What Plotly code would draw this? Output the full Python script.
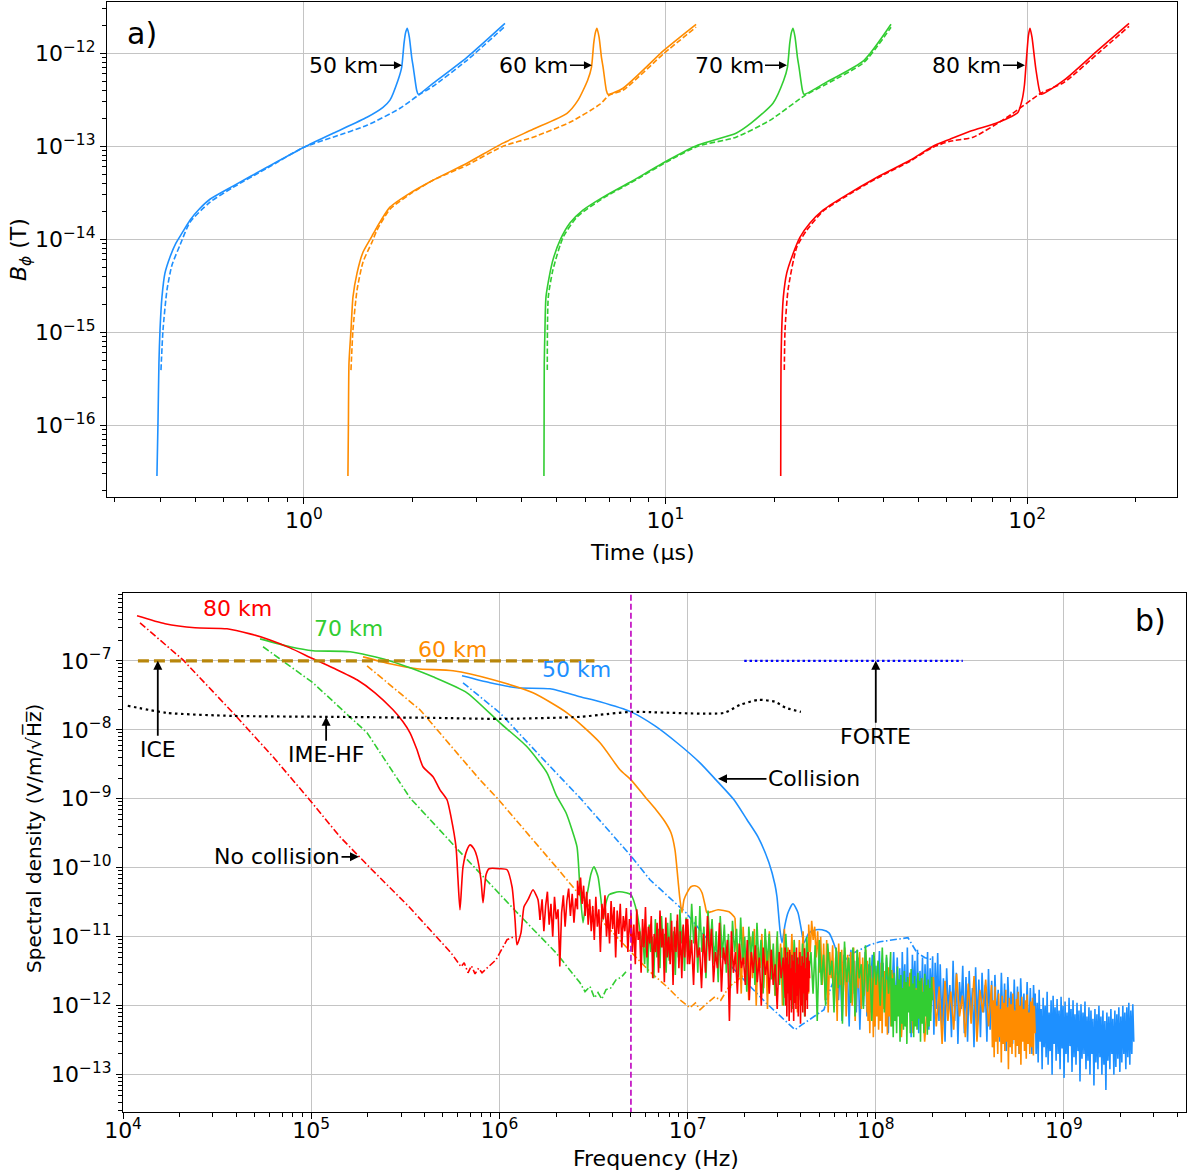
import numpy as np
import plotly.graph_objects as go

# ================= Panel a) : B_phi vs time =================
blue_t = [0.392, 0.3945, 0.397, 0.3997, 0.4047, 0.4125, 0.4258, 0.4424, 0.4598, 0.4838, 0.5157, 0.5495, 0.636, 0.790,
          1.0, 1.203, 1.494, 1.654, 1.729, 1.820, 1.863, 1.891, 1.911, 1.931, 1.956, 1.986, 2.006, 2.050, 2.071,
          2.274, 2.824, 3.597]
blue_B = [2.83e-17, 1e-16, 4.64e-16, 1.05e-15, 2.38e-15, 4.31e-15, 6.4e-15, 9.06e-15, 1.16e-14, 1.60e-14, 2.15e-14,
          2.69e-14, 3.72e-14, 5.94e-14, 9.76e-14, 1.38e-13, 2.05e-13, 2.62e-13, 3.13e-13, 5.13e-13, 7.06e-13,
          1.28e-12, 1.68e-12, 1.86e-12, 1.49e-12, 9.06e-13, 7.06e-13, 4.0e-13, 3.62e-13, 4.75e-13, 9.06e-13, 2.10e-12]
blue_dash_t = [0.4022, 0.4074, 0.4178, 0.4313, 0.4539, 0.4838, 0.5495, 0.636, 0.790, 1.0, 1.203, 1.494, 1.844, 2.071,
               2.274, 2.824, 3.597]
blue_dash_B = [3.9e-16, 1.05e-15, 2.83e-15, 5.25e-15, 8.61e-15, 1.52e-14, 2.5e-14, 3.6e-14, 5.8e-14, 9.76e-14,
               1.25e-13, 1.68e-13, 2.56e-13, 3.53e-13, 4.42e-13, 8.41e-13, 1.95e-12]

orange_t = [1.323, 1.327, 1.332, 1.349, 1.366, 1.402, 1.456, 1.542, 1.592, 1.729, 1.965, 2.274, 2.824, 3.552, 4.30,
            5.34, 5.73, 6.09, 6.24, 6.33, 6.40, 6.46, 6.55, 6.65, 6.72, 6.86, 6.93, 7.63, 9.91, 12.15]
orange_B = [2.83e-17, 1e-16, 4.64e-16, 1.05e-15, 2.38e-15, 4.31e-15, 7.24e-15, 1.08e-14, 1.35e-14, 2.21e-14, 3.13e-14,
            4.31e-14, 6.57e-14, 1.08e-13, 1.52e-13, 2.26e-13, 3.13e-13, 5.13e-13, 7.06e-13, 1.28e-12, 1.68e-12,
            1.86e-12, 1.49e-12, 9.06e-13, 7.06e-13, 4.0e-13, 3.62e-13, 4.21e-13, 1.08e-12, 2.05e-12]
orange_dash_t = [1.349, 1.366, 1.402, 1.456, 1.542, 1.592, 1.729, 1.965, 2.274, 2.824, 3.552, 4.30, 5.44, 6.59, 6.98,
                 7.63, 9.91, 12.15]
orange_dash_B = [3.9e-16, 1.05e-15, 2.83e-15, 5.66e-15, 9.29e-15, 1.25e-14, 2.1e-14, 3.05e-14, 4.31e-14, 6.25e-14,
                 1e-13, 1.25e-13, 1.81e-13, 2.83e-13, 3.53e-13, 4.0e-13, 1e-12, 1.91e-12]

green_t = [4.61, 4.615, 4.62, 4.64, 4.67, 4.79, 4.88, 5.11, 5.44, 5.91, 6.72, 7.98, 10.16, 12.30, 15.67, 17.24, 19.83,
           21.23, 21.74, 22.06, 22.30, 22.53, 22.82, 23.17, 23.41, 23.92, 24.16, 27.80, 35.41, 42.05]
green_B = [2.83e-17, 1e-16, 4.64e-16, 1.05e-15, 2.38e-15, 4.31e-15, 5.94e-15, 9.76e-15, 1.49e-14, 2.05e-14, 2.83e-14,
           4.10e-14, 7.06e-14, 1.03e-13, 1.38e-13, 1.77e-13, 2.90e-13, 5.13e-13, 7.06e-13, 1.28e-12, 1.68e-12,
           1.86e-12, 1.49e-12, 9.06e-13, 7.06e-13, 4.0e-13, 3.62e-13, 4.87e-13, 8.41e-13, 2.05e-12]
green_dash_t = [4.71, 4.74, 4.88, 5.21, 5.69, 6.72, 7.98, 10.16, 12.30, 15.67, 19.45, 24.32, 27.80, 35.41, 42.05]
green_dash_B = [3.9e-16, 2.38e-15, 4.64e-15, 1.05e-14, 1.73e-14, 2.76e-14, 4.0e-14, 6.9e-14, 1e-13, 1.25e-13,
                1.90e-13, 3.53e-13, 4.64e-13, 8.0e-13, 1.91e-12]

red_t = [20.83, 20.84, 20.87, 20.96, 21.18, 21.64, 22.35, 23.56, 25.10, 27.27, 30.97, 38.47, 47.48, 54.95, 61.24,
         69.56, 82.08, 90.89, 94.43, 96.87, 98.35, 99.8, 100.9, 101.9, 103.2, 104.8, 105.9, 108.2, 109.3, 126.6,
         157.2, 191.5]
red_B = [2.83e-17, 1e-16, 4.64e-16, 1.05e-15, 2.38e-15, 4.31e-15, 6.4e-15, 1.05e-14, 1.49e-14, 2.05e-14, 2.83e-14,
         4.64e-14, 7.06e-14, 1e-13, 1.19e-13, 1.45e-13, 1.77e-13, 2.1e-13, 2.32e-13, 3.13e-13, 4.53e-13, 9.5e-13,
         1.56e-12, 1.86e-12, 1.49e-12, 9.06e-13, 6.57e-13, 4.0e-13, 3.62e-13, 5.13e-13, 1.08e-12, 2.10e-12]
red_dash_t = [21.31, 21.41, 21.82, 23.07, 24.59, 27.27, 30.97, 38.47, 47.48, 54.95, 61.24, 70.9, 88.1, 109.3, 126.6,
              157.2, 191.5]
red_dash_B = [3.9e-16, 1.05e-15, 2.83e-15, 8.2e-15, 1.25e-14, 2.0e-14, 2.76e-14, 4.53e-14, 6.9e-14, 9.76e-14, 1.13e-13,
              1.25e-13, 2.05e-13, 3.72e-13, 4.87e-13, 1e-12, 1.95e-12]

alt_labels = ["50 km", "60 km", "70 km", "80 km"]
peak_arrow_t = [1.866, 6.26, 21.68, 98.7]
peak_arrow_B = [7.43e-13, 7.43e-13, 7.43e-13, 7.43e-13]

# ================= Panel b) : spectral density =================
red_f = [1.187e4, 1.672e4, 2.413e4, 3.569e4, 4.729e4, 6.04e4, 7.716e4, 1.022e5, 1.338e5, 1.751e5, 2.183e5, 2.72e5,
         3.074e5, 3.35e5, 3.649e5, 3.926e5, 4.438e5, 4.834e5, 5.267e5, 5.531e5, 5.88e5, 6.026e5, 6.174e5, 6.406e5,
         6.727e5, 6.98e5, 7.328e5, 7.603e5, 7.984e5, 8.183e5, 8.489e5, 8.806e5, 1.007e6, 1.098e6, 1.167e6, 1.211e6,
         1.24e6, 1.302e6, 1.351e6, 1.419e6, 1.508e6, 1.565e6, 1.604e6, 1.643e6]
red_S = [4.49e-7, 3.44e-7, 3.01e-7, 2.91e-7, 2.46e-7, 2.01e-7, 1.54e-7, 1.07e-7, 7.66e-8, 5.31e-8, 3.44e-8, 1.95e-8,
         1.31e-8, 9.06e-9, 5.13e-9, 2.91e-9, 2.09e-9, 1.35e-9, 9.68e-10, 5.48e-10, 2.01e-10, 6.7e-11, 2.46e-11,
         1.03e-10, 1.82e-10, 2.15e-10, 1.88e-10, 1.44e-10, 6.7e-11, 3.11e-11, 7.92e-11, 9.68e-11, 9.68e-11, 9.36e-11,
         5.31e-11, 1.76e-11, 7.66e-12, 1.14e-11, 2.72e-11, 3.44e-11, 4.8e-11, 4.06e-11, 3.44e-11, 1.76e-11]
red_nc_f = [1.231e4, 2.084e4, 3.842e4, 6.266e4, 9.616e4, 1.422e5, 2.053e5, 3.309e5, 4.279e5, 5.531e5, 6.252e5, 6.5e5,
            6.81e5, 7.1e5, 7.422e5, 7.75e5, 8.085e5, 8.918e5, 9.592e5, 1.098e6, 1.196e6]
red_nc_S = [3.56e-7, 1.03e-7, 1.76e-8, 4.06e-9, 1.03e-9, 2.81e-10, 1.0e-10, 2.72e-11, 1.26e-11, 5.86e-12, 3.67e-12,
            4.2e-12, 3.0e-12, 3.8e-12, 2.9e-12, 3.5e-12, 3.01e-12, 3.8e-12, 4.64e-12, 9.06e-12, 1.0e-11]

green_f = [5.346e4, 7.716e4, 1.022e5, 1.608e5, 2.528e5, 3.35e5, 4.438e5, 6.727e5, 1.007e6, 1.402e6, 1.79e6, 2.0e6,
           2.259e6, 2.43e6, 2.585e6, 2.682e6, 2.782e6, 2.885e6, 2.957e6, 3.067e6, 3.182e6, 3.342e6, 3.467e6, 3.553e6,
           3.686e6, 3.823e6, 4.321e6, 4.706e6, 5.004e6, 5.384e6, 5.725e6]
green_S = [2.08e-7, 1.6e-7, 1.4e-7, 1.35e-7, 1.03e-7, 7.92e-8, 5.86e-8, 3.44e-8, 1.26e-8, 5.68e-9, 2.38e-9, 1.14e-9,
           6.27e-10, 3.56e-10, 2.01e-10, 4.8e-11, 1.6e-11, 3.44e-11, 4.8e-11, 8.18e-11, 1.03e-10, 7.41e-11, 3.44e-11,
           1.76e-11, 3.11e-11, 4.06e-11, 4.49e-11, 4.34e-11, 4.06e-11, 2.23e-11, 7.16e-12]
green_nc_f = [5.546e4, 1.022e5, 1.98e5, 3.35e5, 6.026e5, 1.302e6, 2.0e6, 2.682e6, 2.85e6, 3.03e6, 3.2e6, 3.342e6,
              3.5e6, 3.686e6, 3.9e6, 4.166e6, 4.45e6, 4.706e6]
green_nc_S = [1.6e-7, 4.8e-8, 9.06e-9, 1.03e-9, 1.82e-10, 1.95e-11, 5.86e-12, 2.15e-12, 1.6e-12, 1.9e-12, 1.3e-12,
              1.55e-12, 1.25e-12, 1.71e-12, 1.8e-12, 2.38e-12, 2.6e-12, 3.11e-12]

orange_f = [1.885e5, 2.622e5, 3.649e5, 5.669e5, 9.248e5, 1.508e6, 2.287e6, 3.424e6, 4.373e6, 5.004e6, 5.937e6,
            6.795e6, 7.586e6, 8.163e6, 8.57e6, 8.892e6, 9.112e6, 9.338e6, 9.569e6, 9.927e6, 1.042e7, 1.095e7, 1.15e7,
            1.193e7, 1.237e7, 1.268e7, 1.331e7, 1.451e7, 1.66e7, 1.786e7]
orange_S = [1.14e-7, 9.06e-8, 7.66e-8, 7.16e-8, 5.31e-8, 3.44e-8, 1.76e-8, 6.49e-9, 2.63e-9, 1.88e-9, 1.07e-9,
            6.93e-10, 4.64e-10, 3.21e-10, 1.82e-10, 6.7e-11, 3.44e-11, 2.23e-11, 3.44e-11, 4.34e-11, 5.31e-11,
            5.48e-11, 5.13e-11, 4.34e-11, 2.91e-11, 2.23e-11, 2.3e-11, 2.46e-11, 2.3e-11, 1.88e-11]
orange_nc_f = [1.98e5, 3.785e5, 7.887e5, 9.71e5, 2.0e6, 3.342e6, 4.706e6, 6.312e6, 7.774e6, 9.112e6, 1.03e7, 1.1e7,
               1.164e7, 1.25e7, 1.398e7, 1.5e7, 1.66e7, 2.004e7]
orange_nc_S = [8.47e-8, 1.95e-8, 1.88e-9, 1.03e-9, 1.03e-10, 1.95e-11, 7.16e-12, 3.11e-12, 1.88e-12, 1.22e-12,
               9.36e-13, 1.1e-12, 8.75e-13, 1.05e-12, 1.35e-12, 1.2e-12, 1.88e-12, 2.81e-12]

blue_f = [6.327e5, 8.918e5, 1.24e6, 1.858e6, 2.682e6, 3.424e6, 5.004e6, 6.712e6, 8.785e6, 1.164e7, 1.415e7, 1.764e7,
          2.069e7, 2.366e7, 2.707e7, 2.913e7, 2.985e7, 3.097e7, 3.174e7, 3.293e7, 3.416e7, 3.631e7, 3.86e7, 4.004e7,
          4.154e7, 4.416e7, 4.812e7, 5.178e7, 5.64e7, 6.07e7]
blue_S = [6.06e-8, 4.8e-8, 4.06e-8, 3.93e-8, 3.01e-8, 2.55e-8, 1.82e-8, 1.14e-8, 6.49e-9, 3.32e-9, 1.88e-9, 9.68e-10,
          4.97e-10, 2.81e-10, 1.18e-10, 5.68e-11, 3.8e-11, 1.26e-11, 8.18e-12, 1.49e-11, 2.23e-11, 3.01e-11, 2.23e-11,
          1.35e-11, 8.18e-12, 1.14e-11, 1.26e-11, 1.26e-11, 1.14e-11, 7.16e-12]
blue_nc_f = [6.406e5, 1.007e6, 1.643e6, 2.682e6, 4.943e6, 6.312e6, 9.806e6, 1.487e7, 2.61e7, 2.985e7, 3.333e7, 3.722e7,
             4.055e7, 4.416e7, 4.871e7, 5.305e7, 5.64e7, 5.996e7, 6.375e7, 7.295e7, 8.244e7, 9.316e7, 1.053e8, 1.265e8,
             1.483e8, 1.539e8, 1.656e8, 1.826e8, 2.014e8]
blue_nc_S = [4.8e-8, 1.76e-8, 4.2e-9, 1.03e-9, 1.54e-10, 6.7e-11, 2.23e-11, 5.48e-12, 1.1e-12, 7.92e-13, 5.86e-13,
             4.49e-13, 5.31e-13, 6.27e-13, 7.41e-13, 8.75e-13, 1.54e-12, 2.38e-12, 3.67e-12, 5.48e-12, 6.49e-12,
             7.66e-12, 8.47e-12, 9.06e-12, 9.68e-12, 8.18e-12, 5.86e-12, 4.97e-12, 4.64e-12]

# numerical-noise tails (values in 1e-12 V/m/sqrtHz), read band by band
red_noise_bands = [1.65e6, 2.6e6, 5e6, 1e7, 3.3e7, 4.45e7]
red_noise_1 = [20, 35, 12, 28, 45, 15, 30, 10, 38, 18, 25, 3.7, 22, 40, 14, 33, 50, 20, 42, 16, 36, 25]
red_noise_2 = [65, 40, 72, 30, 55, 20, 45, 15, 35, 12, 28, 9, 38, 14, 25, 6, 30, 18, 40, 10, 22, 8, 33, 13, 27, 5, 24,
               11, 30, 7, 20, 12, 26, 6, 18, 10]
red_noise_3 = [22, 6, 15, 4, 25, 9, 12, 3, 18, 7, 27, 5, 14, 8, 20, 2.5, 11, 6, 16, 3, 24, 7, 13, 2.2, 19, 5, 10, 4,
               17, 2, 14, 6, 21, 3.5, 12, 2.5, 15, 5, 18, 4]
red_noise_4 = [18, 4, 9, 2, 14, 5, 7, 1.8, 11, 3, 20, 4.5, 13, 2.2, 6, 3.5, 16, 1.6, 7, 4, 9, 0.6, 12, 3, 6, 1.5, 8,
               3.5, 5, 2, 9, 1.2, 6, 3, 7.5, 2.2, 5, 1, 7, 2.8, 4.5, 1.5, 6.5, 2, 4, 0.9, 6, 2.5, 5, 1.3]
red_noise_5 = [7, 1, 5, 0.7, 6, 1.5, 4, 0.6, 6.5, 1.2, 3.5, 0.8, 5.5, 2, 4.5, 0.6, 6, 1.1, 3, 0.9, 7, 1.4, 5, 0.7, 4,
               1.8, 6, 0.55, 3.8, 1, 5.2, 0.8, 4.2, 1.5, 6.8, 0.7, 3.5, 1.2, 5, 0.9, 6, 1.6, 4.5, 2.5]

green_noise_bands = [5.8e6, 1e7, 3e7, 1.2e8, 2e8]
green_noise_1 = [9, 4, 12, 3, 15, 6, 10, 2.5, 18, 5, 13, 3.5, 20, 7, 11, 3, 16, 4.5, 22, 6, 12, 2.8, 17, 5, 25, 8, 14,
                 3.2, 19, 6]
green_noise_2 = [15, 5, 30, 8, 20, 3, 28, 6, 14, 2.5, 24, 7, 18, 4, 12, 2.2, 20, 5, 15, 3, 11, 1.8, 17, 6, 13, 2.6,
                 19, 4, 10, 1.6, 14, 5, 12, 2, 16, 3.5, 9, 1.5, 13, 4, 11, 2.4, 8, 1.4, 12]
green_noise_3 = [10, 2, 7, 1, 11, 3, 6, 0.9, 9, 2.5, 5, 1.2, 8, 0.7, 10, 3, 6, 1.5, 7.5, 0.6, 9, 2, 5.5, 1, 8, 2.8, 4.5,
                 0.8, 7, 1.8, 6, 0.55, 8.5, 2.2, 5, 1.1, 7, 0.7, 6.5, 2.5, 4, 0.9, 7.5, 1.6, 5, 0.6, 6, 2, 4.5, 1, 7,
                 0.8, 5.5, 1.5, 6]
green_noise_4 = [3.5, 0.5, 2.5, 0.35, 3, 0.6, 2, 0.4, 3.7, 0.7, 2.4, 0.3, 2.8, 0.55, 1.8, 0.45, 3.2, 0.5, 2.2, 0.28,
                 2.6, 0.8, 1.9, 0.4, 3.4, 0.6, 2.1, 0.35, 2.7, 0.5, 1.7, 0.45, 3, 0.65, 2.3, 0.3, 2.5, 0.55, 1.6, 0.4,
                 2.9, 0.7, 2, 0.38, 2.4, 0.5, 1.8, 0.6, 2.6, 1.2]

orange_noise_bands = [1.8e7, 4.4e7, 9e7, 1.23e8, 4.12e8, 7.03e8]
orange_noise_1 = [12, 3, 8, 1.5, 14, 4, 6, 1.2, 10, 2.5, 13, 1, 7, 3.5, 11, 1.8, 9, 0.9, 12, 3, 6, 1.4, 10, 2.2, 8, 1,
                  13, 4, 7, 1.6, 11, 2.5, 6, 0.8, 9, 2, 12, 3, 8, 1.5]
orange_noise_2 = [15, 6, 17, 9, 14, 5, 12, 3, 10, 2, 8, 1.2, 9, 0.8, 6, 2.5, 7.5, 1, 5, 0.6, 8, 2, 6.5, 1.5, 7, 0.7,
                  5.5, 2.2, 6, 1, 7, 0.6, 4.5, 1.8, 6, 0.9, 5, 1.4, 6.5, 0.8]
orange_noise_3 = [4.5, 0.6, 3, 0.4, 3.8, 0.8, 2.5, 0.35, 4, 0.5, 2.8, 0.7, 3.5, 0.45, 2.2, 0.6, 4.2, 0.4, 2.6, 0.9,
                  3.2, 0.5, 2.4, 0.38, 3.6, 0.7, 2.9, 0.5, 3.3, 1]
orange_noise_4 = [2.8, 0.6, 1.5, 0.35, 2.2, 0.9, 3, 0.4, 1.8, 0.7, 2.5, 0.3, 1.3, 0.8, 2.6, 0.5, 1.9, 0.28, 2.3, 0.6,
                  1.6, 0.45, 2.9, 0.7, 1.4, 0.35, 2.1, 0.55, 2.7, 0.3, 1.7, 0.8, 2.4, 0.5, 2]
orange_noise_5 = [1.6, 0.25, 1.2, 0.18, 1.9, 0.3, 1, 0.2, 1.5, 0.35, 0.9, 0.15, 1.4, 0.28, 1.1, 0.22, 1.7, 0.3, 0.95,
                  0.12, 1.3, 0.25, 1.05, 0.2, 1.5, 0.32, 0.85, 0.18, 1.25, 0.26, 1.6, 0.2, 1, 0.14, 1.35, 0.3, 0.9,
                  0.22, 1.2, 0.17, 1.45, 0.28, 0.8, 0.2, 1.15, 0.25, 1.3, 0.19, 1, 0.4]

blue_noise_bands = [6.2e7, 1.3e8, 2.2e8, 7.03e8, 2.35e9]
blue_noise_1 = [6, 1.2, 4, 0.6, 5.5, 2, 3.5, 0.5, 6.5, 1.5, 4.5, 0.8, 5, 0.45, 3, 1, 6, 0.7, 4, 1.8, 5.5, 0.5, 3.8,
                1.2, 6.2, 0.6, 4.2, 0.9, 5, 0.4, 3.5, 1.4, 6, 0.8, 4.5]
blue_noise_2 = [5, 0.8, 3.5, 0.4, 6, 1.2, 4, 0.5, 7, 0.9, 3, 0.35, 5.5, 1.5, 4.5, 0.6, 6.5, 0.4, 3.2, 1, 5, 0.5, 4,
                0.8, 6, 0.45, 3.5, 1.2, 5.2, 0.38, 4.2, 0.9, 5.8, 0.6, 3.8]
blue_noise_3 = [4, 0.5, 2.5, 0.3, 3.5, 0.8, 2, 0.35, 4.5, 0.6, 3, 0.28, 2.2, 0.9, 3.8, 0.4, 2.6, 0.3, 3.2, 0.7, 1.8,
                0.25, 3.6, 0.5, 2.4, 0.35, 3, 0.8, 2, 0.3, 3.4, 0.45, 2.3, 0.25, 2.8, 0.6, 1.7, 0.3, 3, 0.5, 2.1, 0.22,
                2.6, 0.7, 1.6, 0.28, 2.4, 0.4, 1.9, 0.2, 2.5, 0.55, 1.5, 0.3, 2.2, 0.35, 1.8, 0.2, 2, 0.45]
blue_noise_4 = [1.5, 0.2, 1.1, 0.15, 1.7, 0.3, 0.9, 0.12, 1.3, 0.25, 1.0, 0.18, 1.6, 0.14, 0.8, 0.22, 1.2, 0.1, 1.4,
                0.28, 0.95, 0.16, 1.25, 0.2, 0.85, 0.12, 1.35, 0.24, 1.0, 0.09, 1.15, 0.2, 0.8, 0.15, 1.3, 0.26, 0.9,
                0.11, 1.2, 0.18, 0.75, 0.14, 1.1, 0.22, 0.85, 0.08, 1.05, 0.17, 0.8, 0.2, 1.15, 0.12, 0.7, 0.16, 0.95,
                0.1, 0.85, 0.2, 0.65, 0.07, 0.9, 0.15, 0.75, 0.12, 1.0, 0.18, 0.7, 0.1, 0.85, 0.14, 0.6, 0.06, 0.8,
                0.16, 0.7, 0.12, 0.9, 0.2, 0.65, 0.1, 0.85, 0.13, 0.75, 0.17, 0.95, 0.11, 0.7, 0.15, 1.0, 0.2, 0.8,
                0.12, 0.95, 0.18, 1.1, 0.14, 0.85, 0.2, 1.05, 0.3]

# reference sensitivities
ice_f = [1.2e4, 3.2e6]
ice_S = [1e-7, 1e-7]
forte_f = [2e7, 2.9e8]
forte_S = [1e-7, 1e-7]
imehf_f = [1.06e4, 1.71e4, 3.83e4, 1.31e5, 4.44e5, 1.0e6, 2.68e6, 3.42e6, 5.0e6, 1.56e7, 1.9e7, 2.39e7, 2.91e7,
           3.33e7, 4.0e7]
imehf_S = [2.23e-8, 1.76e-8, 1.59e-8, 1.54e-8, 1.49e-8, 1.44e-8, 1.54e-8, 1.65e-8, 1.82e-8, 1.76e-8, 2.3e-8, 2.72e-8,
           2.55e-8, 2.08e-8, 1.82e-8]
plasma_f = 5e6

# tick values
t_ticks = [1, 10, 100]
B_ticks = [1e-16, 1e-15, 1e-14, 1e-13, 1e-12]
f_ticks = [1e4, 1e5, 1e6, 1e7, 1e8, 1e9]
S_ticks = [1e-13, 1e-12, 1e-11, 1e-10, 1e-9, 1e-8, 1e-7]

C_BLUE, C_ORANGE, C_GREEN, C_RED = "#1E90FF", "#FF8C00", "#32CD32", "#FF0000"
FONT = "DejaVu Sans"

fig = go.Figure()


def line(x, y, color, width=1.6, dash="solid", xa="x", ya="y", shape="linear"):
    fig.add_trace(go.Scatter(x=x, y=y, mode="lines",
                             line=dict(color=color, width=width, dash=dash, shape=shape,
                                       smoothing=0.6 if shape == "spline" else None),
                             xaxis=xa, yaxis=ya, showlegend=False, hoverinfo="skip"))


def noise(f, s, bands, chunks):
    ff, ss = [f[-1]], [s[-1]]
    for i, vals in enumerate(chunks):
        ff.extend(np.geomspace(bands[i], bands[i + 1], len(vals)))
        ss.extend(np.array(vals, dtype=float) * 1e-12)
    return ff, ss


# ---- panel a traces
DASH_A = "5.5px,2.5px"
for t, b, td, bd, c in [(blue_t, blue_B, blue_dash_t, blue_dash_B, C_BLUE),
                        (orange_t, orange_B, orange_dash_t, orange_dash_B, C_ORANGE),
                        (green_t, green_B, green_dash_t, green_dash_B, C_GREEN),
                        (red_t, red_B, red_dash_t, red_dash_B, C_RED)]:
    line(t, b, c, 1.6, shape="spline")
    line(td, bd, c, 1.6, DASH_A, shape="spline")

# ---- panel b traces
DASHDOT = "7px,2.5px,1.5px,2.5px"
sets = [(blue_f, blue_S, blue_noise_bands, [blue_noise_1, blue_noise_2, blue_noise_3, blue_noise_4],
         blue_nc_f, blue_nc_S, C_BLUE),
        (orange_f, orange_S, orange_noise_bands,
         [orange_noise_1, orange_noise_2, orange_noise_3, orange_noise_4, orange_noise_5],
         orange_nc_f, orange_nc_S, C_ORANGE),
        (green_f, green_S, green_noise_bands, [green_noise_1, green_noise_2, green_noise_3, green_noise_4],
         green_nc_f, green_nc_S, C_GREEN),
        (red_f, red_S, red_noise_bands, [red_noise_1, red_noise_2, red_noise_3, red_noise_4, red_noise_5],
         red_nc_f, red_nc_S, C_RED)]
for f, s, bands, chunks, fnc, snc, c in sets:
    line(fnc, snc, c, 1.6, DASHDOT, "x2", "y2")
    line(f, s, c, 1.6, "solid", "x2", "y2", shape="spline")
    ff, ss = noise(f, s, bands, chunks)
    line(ff, ss, c, 1.6, "solid", "x2", "y2")

line(ice_f, ice_S, "#B8860B", 3.2, "11px,5px", "x2", "y2")
line(forte_f, forte_S, "#0000FF", 2.2, "2.5px,2.8px", "x2", "y2")
line(imehf_f, imehf_S, "#000000", 2.2, "2.5px,3.5px", "x2", "y2", shape="spline")
line([plasma_f, plasma_f], [1e-15, 1e-4], "#BF00BF", 1.6, "6px,3px", "x2", "y2")

# ---- axes
tickfont = dict(family=FONT, size=22, color="black")


def minor_vals(vals):
    out = []
    lo = int(np.floor(np.log10(vals[0]))) - 1
    hi = int(np.floor(np.log10(vals[-1]))) + 1
    for e in range(lo, hi + 1):
        for k in range(2, 10):
            out.append(k * 10.0 ** e)
    return out


def sup_text(vals):
    out = []
    for v in vals:
        e = int(round(np.log10(v)))
        out.append("10<sup>%s</sup>" % (str(e).replace("-", "−")))
    return out


def axis(domain, rng, anchor, ticks, standoff=0):
    return dict(type="log", domain=domain, range=rng, anchor=anchor, showline=True, linecolor="black",
                linewidth=1.2, mirror=True, ticks="outside", ticklen=6, tickwidth=1.2, tickcolor="black",
                showgrid=True, gridcolor="#c4c4c4", gridwidth=1, zeroline=False,
                tickmode="array", tickvals=ticks, ticktext=sup_text(ticks), tickfont=tickfont, automargin=False,
                ticklabelstandoff=standoff,
                minor=dict(ticks="outside", ticklen=3.5, tickwidth=1, tickcolor="black", tickmode="array",
                           tickvals=minor_vals(ticks), showgrid=False))


fig.update_layout(
    width=1191, height=1171, autosize=False, margin=dict(l=0, r=0, t=0, b=0),
    paper_bgcolor="white", plot_bgcolor="white", showlegend=False,
    font=dict(family=FONT, size=22, color="black"),
    xaxis=axis([0.0898, 0.9883], [-0.545, 2.415], "y", t_ticks, -2),
    yaxis=axis([0.5756, 0.9983], [-16.774, -11.448], "x", B_ticks),
    xaxis2=axis([0.1033, 0.9962], [4.0, 9.651], "y2", f_ticks, -7),
    yaxis2=axis([0.0504, 0.4940], [-13.54, -6.01], "x2", S_ticks),
)

ann = []


def text(t, x, y, size=22, angle=0, color="black"):
    ann.append(dict(text=t, xref="paper", yref="paper", x=x, y=y, xanchor="center", yanchor="middle",
                    showarrow=False, textangle=angle, font=dict(size=size, color=color)))


text("Time (μs)", 0.539, 0.5278)
text("<i>B</i><sub><i>ϕ</i></sub> (T)", 0.0168, 0.7865, angle=-90)
text("Frequency (Hz)", 0.551, 0.0111)
text("Spectral density (V/m/√H\u0305z\u0305)", 0.0285, 0.2844, size=20, angle=-90)
text("a)", 0.1192, 0.9718, size=30)
text("b)", 0.9656, 0.4705, size=30)

# altitude arrows panel a
for lab, t, b in zip(alt_labels, peak_arrow_t, peak_arrow_B):
    ann.append(dict(text=lab, xref="x", yref="y", x=np.log10(t), y=np.log10(b), ax=-58, ay=0, showarrow=True,
                    arrowhead=2, arrowsize=1, arrowwidth=1.6, arrowcolor="black", font=dict(size=22)))
# altitude labels panel b (text positions)
for lab, x, y, c in [("80 km", 4.606, -6.246, C_RED), ("70 km", 5.196, -6.536, C_GREEN),
                     ("60 km", 5.753, -6.841, C_ORANGE), ("50 km", 6.407, -7.130, C_BLUE)]:
    ann.append(dict(text=lab, xref="x2", yref="y2", x=x, y=y, xanchor="center", yanchor="middle",
                    showarrow=False, font=dict(size=22, color=c)))
# arrowed annotations panel b
for lab, f, s, ax, ay in [("Collision", 1.451e7, 1.95e-9, 96, 0),
                          ("No collision", 1.795e5, 1.44e-10, -82, 0),
                          ("ICE", 1.53e4, 1e-7, 0, 89),
                          ("IME-HF", 1.2e5, 1.54e-8, 0, 38),
                          ("FORTE", 1e8, 1e-7, 0, 76)]:
    ann.append(dict(text=lab, xref="x2", yref="y2", x=np.log10(f), y=np.log10(s), ax=ax, ay=ay, showarrow=True,
                    arrowhead=2, arrowsize=1, arrowwidth=1.8, arrowcolor="black", font=dict(size=22)))
fig.update_layout(annotations=ann)

fig.write_html("out.html", config={"displayModeBar": False},
               post_script="document.body.style.margin='0px';")
